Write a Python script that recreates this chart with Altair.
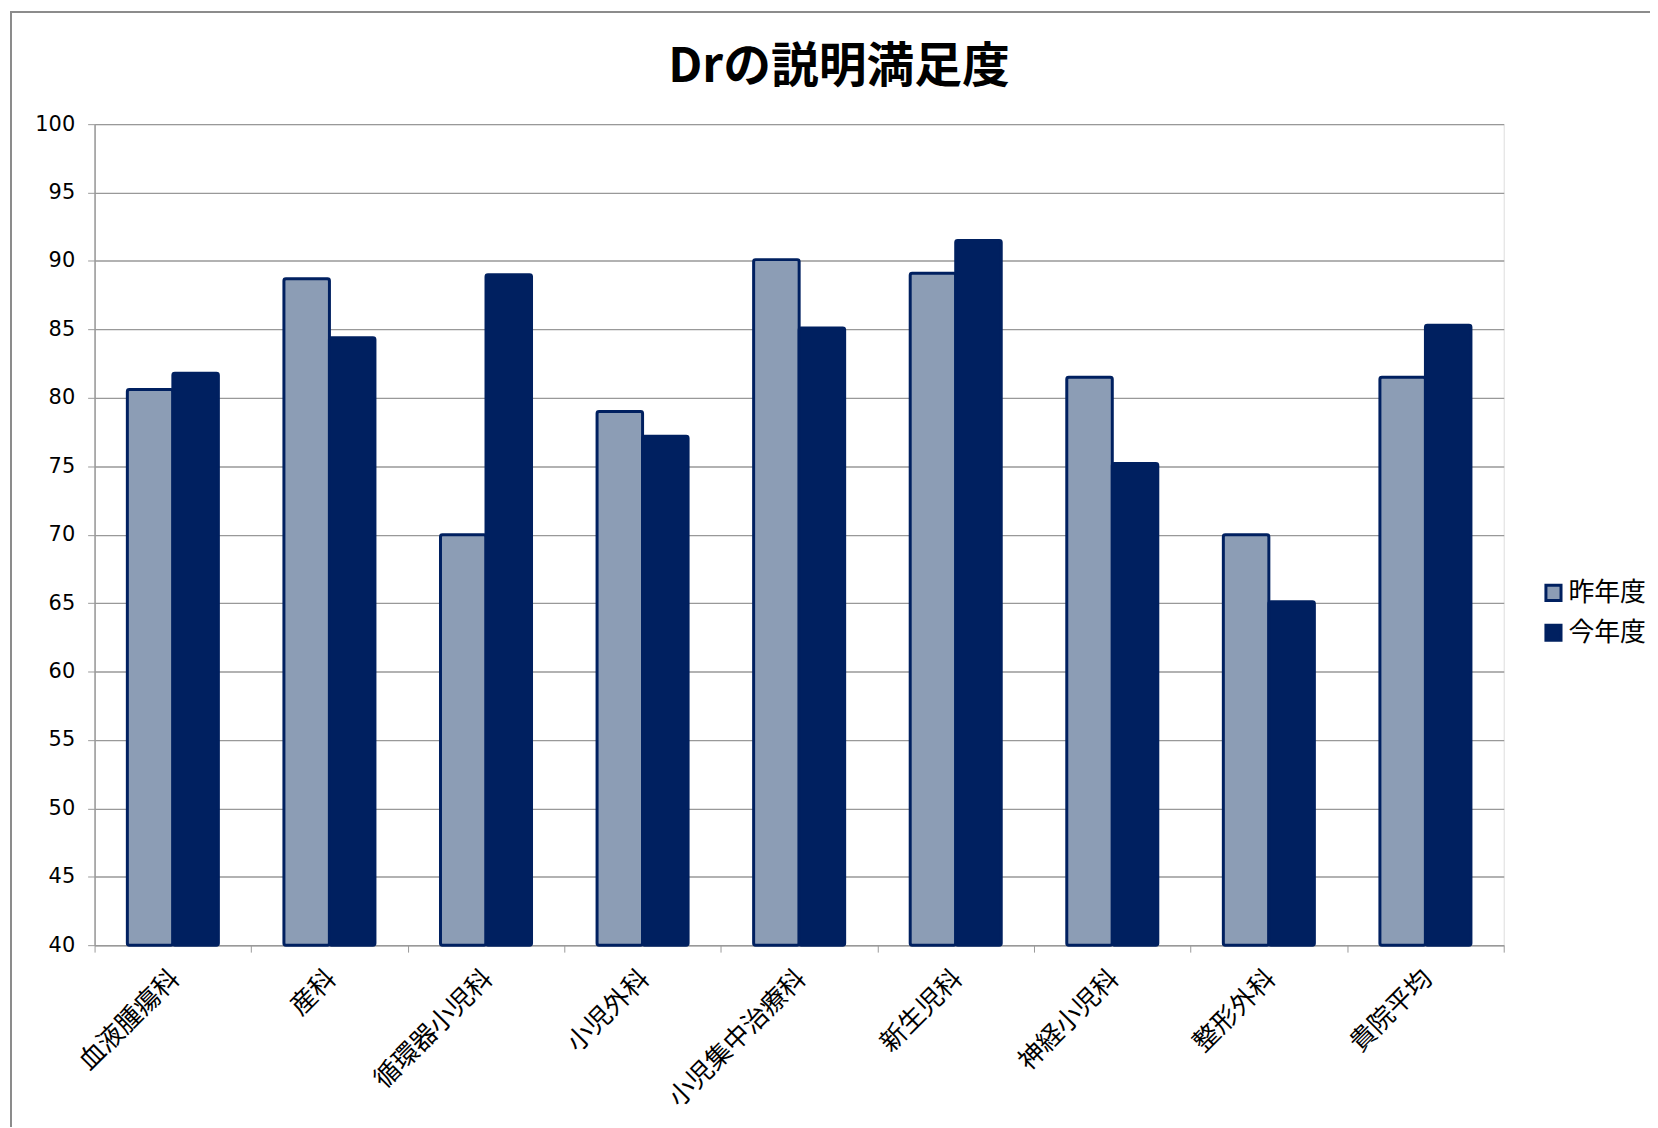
import altair as alt
import pandas as pd

categories = ["血液腫瘍科", "産科", "循環器小児科", "小児外科", "小児集中治療科",
              "新生児科", "神経小児科", "整形外科", "貴院平均"]
prev_year = [80.6, 88.7, 70.0, 79.0, 90.1, 89.1, 81.5, 70.0, 81.5]
this_year = [81.8, 84.4, 89.0, 77.2, 85.1, 91.5, 75.2, 65.1, 85.3]
series = ["昨年度", "今年度"]
colors = ["#8C9DB5", "#002060"]

rows = []
for c, p, t in zip(categories, prev_year, this_year):
    rows.append({"cat": c, "series": series[0], "value": p, "base": 40})
    rows.append({"cat": c, "series": series[1], "value": t, "base": 40})
df = pd.DataFrame(rows)

W, H = 1416, 825
JP = "Noto Sans CJK JP"

bars = alt.Chart(df).mark_bar(
    stroke="#002060", strokeWidth=3, cornerRadius=2
).encode(
    x=alt.X("cat:N", sort=categories, title=None,
            scale=alt.Scale(paddingInner=0, paddingOuter=0),
            axis=alt.Axis(labelAngle=-45, labelFont=JP, labelFontSize=26,
                          labelColor="#000000", labelAlign="right",
                          labelBaseline="middle", labelOffset=2,
                          labelPadding=22, labelLimit=500, tickBand="extent",
                          tickSize=7, tickColor="#999999", domainColor="#999999",
                          domainWidth=1.5, grid=False)),
    xOffset=alt.XOffset("series:N", sort=series,
                        scale=alt.Scale(paddingInner=0, paddingOuter=0.72)),
    y=alt.Y("value:Q", title=None,
            scale=alt.Scale(domain=[40, 100], nice=False, zero=False),
            axis=alt.Axis(values=list(range(40, 101, 5)), labelFont="DejaVu Sans",
                          labelFontSize=21, labelColor="#000000", labelPadding=13,
                          tickSize=7, tickColor="#999999", domainColor="#999999",
                          domainWidth=1.5, gridColor="#999999", gridWidth=1.3)),
    y2=alt.Y2("base:Q"),
    fill=alt.Fill("series:N", sort=series,
                  scale=alt.Scale(domain=series, range=colors),
                  legend=alt.Legend(title=None, orient="none", legendX=1453,
                                    legendY=458, symbolType="square",
                                    symbolSize=230, symbolStrokeWidth=3,
                                    symbolStrokeColor="#002060",
                                    labelFont=JP, labelFontSize=26,
                                    labelColor="#000000", rowPadding=12,
                                    labelOffset=2)),
)

frame_top = alt.Chart(df).mark_rule(color="#8c8c8c", strokeWidth=1.5).encode(
    x=alt.value(-84), x2=alt.value(1570), y=alt.value(-113))
frame_left = alt.Chart(df).mark_rule(color="#8c8c8c", strokeWidth=1.5).encode(
    x=alt.value(-84), y=alt.value(-113), y2=alt.value(1010))

chart = alt.layer(frame_top, frame_left, bars).properties(
    width=W, height=H,
    title=alt.Title("Drの説明満足度", font=JP, fontSize=48, fontWeight="bold",
                    color="#000000", anchor="middle", dx=40, offset=0, dy=81),
    autosize=alt.AutoSizeParams(type="none"),
    padding={"left": 87, "top": 114, "right": 147, "bottom": 180},
).configure_view(stroke=None).configure(background="white")

chart.save("out.html", embed_options={"renderer": "svg", "actions": False})
